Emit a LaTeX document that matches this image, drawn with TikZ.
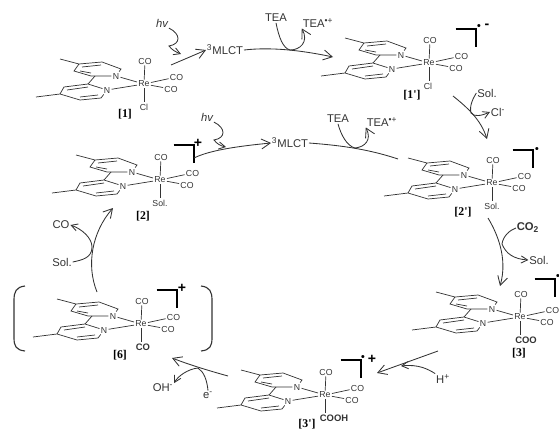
\documentclass[tikz,border=0pt]{standalone}
\usepackage{fontspec}
\setmainfont{Liberation Sans}
\newfontfamily\labelfont{Liberation Serif}
\usetikzlibrary{arrows.meta,calc}
\definecolor{inkgray}{HTML}{333333}
\newcommand{\plainatom}{\fontsize{6.2}{8}\selectfont}
\newcommand{\boldatom}{\bfseries\fontsize{6.7}{8}\selectfont}
\tikzset{
  rxnarr/.style   = {-{Straight Barb[length=2.2mm,width=2.5mm]},inkgray,line width=0.6pt},
  smallarr/.style = {-{Straight Barb[length=1.6mm,width=1.8mm]},inkgray,line width=0.6pt},
  rxnline/.style  = {inkgray,line width=0.6pt},
  bond/.style     = {inkgray,line width=0.5pt},
  corner/.style   = {black,line width=1.1pt},
  roundbr/.style  = {inkgray,line width=0.8pt},
  atom/.style     = {inner sep=0.8pt,font=\plainatom,text=inkgray},
  reagent/.style  = {inner sep=0.5pt,font=\fontsize{8}{10}\selectfont,text=inkgray},
  cmpd/.style     = {inner sep=0pt,font=\labelfont\bfseries\fontsize{8.4}{10}\selectfont},
  charge/.style   = {inner sep=0pt,font=\bfseries\fontsize{10}{10}\selectfont},
  radical/.style  = {inner sep=0pt,font=\bfseries\fontsize{7.5}{10}\selectfont}
}
% the Re complex, #1 name, #2 Re position, #3 axial ligand, #4 its x offset, #5 font
\newcommand{\complex}[5]{%
  \begin{scope}[shift={(#2)}]
    \node[atom] (#1Re) at (0,0) {Re};
    \node[atom] (#1Na) at (-28,-8) {N};
    \node[atom] (#1Nb) at (-37,6) {N};
    \node[atom] (#1COa) at (1,-23) {CO};
    \node[atom] (#1COb) at (32.5,-7) {CO};
    \node[atom] (#1COc) at (27,5) {CO};
    \node[atom,font=#5] (#1ax) at (#4,23) {#3};
    \draw[bond] (#1Re) -- (#1Na);
    \draw[bond] (#1Re) -- (#1Nb);
    \draw[bond] (#1Re) -- (#1COa);
    \draw[bond] (#1Re) -- (#1COb);
    \draw[bond] (#1Re) -- (#1COc);
    \draw[bond] (#1Re) -- (#1ax.north -| #1Re);
    % upper ring
    \draw[bond] (-84,-25) -- (-65,-20) -- (-42,-22) -- (-23,-15) -- (#1Na) -- (-53,-8) -- (-70,-13) -- (-65,-20);
    \draw[bond] (-62,-17) -- (-43,-19);
    \draw[bond] (-64,-13) -- (-53,-11);
    \draw[bond] (-49,-8) -- (-56,0);
    % lower ring
    \draw[bond] (-108,13) -- (-84,10) -- (-80,3) -- (-56,0) -- (#1Nb) -- (-43,14) -- (-64,16) -- (-84,10);
    \draw[bond] (-77,6) -- (-56,3);
    \draw[bond] (-64,13) -- (-46,11);
  \end{scope}
}
% corner bracket of a complex
\newcommand{\cornermark}[1]{%
  \draw[corner] ($(#1)+(-20.5,0)$) -- (#1) -- ($(#1)+(0,18)$);
}
\begin{document}
\begin{tikzpicture}[x=0.025cm,y=-0.025cm]
  \useasboundingbox (0,0) rectangle (559,429);
  \complex{one}{144,84}{Cl}{0}{\plainatom}
  \complex{onep}{429,63}{Cl}{-1}{\plainatom}
  \complex{two}{160,180}{Sol.}{0}{\plainatom}
  \complex{twop}{492,183}{Sol.}{0}{\plainatom}
  \complex{three}{520,317}{COO}{6}{\boldatom}
  \complex{threep}{325,395}{COOH}{9}{\boldatom}
  \complex{six}{141,324}{CO}{2}{\boldatom}
  \node[cmpd] (lbla) at (125,114) {[1]};
  \node[cmpd] (lblb) at (412,95) {[1']};
  \node[cmpd] (lblc) at (143,216) {[2]};
  \node[cmpd] (lbld) at (463,212) {[2']};
  \node[cmpd] (lble) at (519,353) {[3]};
  \node[cmpd] (lblf) at (307,424) {[3']};
  \node[cmpd] (lblg) at (120,355) {[6]};
  % corner brackets and charges
  \cornermark{476,29}
  \cornermark{194,145}
  \cornermark{533,150}
  \cornermark{555,279}
  \cornermark{361,360}
  \cornermark{177,290}
  \node[radical] (chga) at (479,27) {•};
  \node[charge] (chgb) at (487,26) {-};
  \node[charge] (chgc) at (198,143) {+};
  \node[radical] (chgd) at (537,150) {•};
  \node[radical] (chge) at (558,277) {•};
  \node[radical] (chgf) at (363,358) {•};
  \node[charge] (chgg) at (372,359) {+};
  \node[charge] (chgh) at (182,288) {+};
  % big brackets round [6]
  \draw[roundbr] (25,286) .. controls (16,287) and (14,292) .. (14,300) -- (14,338) .. controls (14,346) and (16,350) .. (25,351);
  \draw[roundbr] (201,286) .. controls (210,287) and (212,292) .. (212,300) -- (212,338) .. controls (212,346) and (210,350) .. (201,351);
  % top row
  \node[reagent,font=\itshape\fontsize{8}{10}\selectfont] (hva) at (162,23) {hv};
  \node[reagent] (mlcta) at (225,50) {\textsuperscript{3}MLCT};
  \node[reagent] (teaa) at (276,18) {TEA};
  \node[reagent] (teaplusa) at (318,23) {TEA\textsuperscript{•+}};
  \coordinate (hvaend) at (181,54);
  \coordinate (mlctafrom) at (171,65);
  \coordinate (teaajoin) at (290,50);
  \coordinate (onepin) at (333,57);
  \draw[smallarr] (hva.south east) .. controls (181,34) and (181,44) .. (169,46) .. controls (172,50) and (176,52) .. (hvaend);
  \draw[rxnarr] (mlctafrom) -- (mlcta.west);
  \draw[rxnarr] (mlcta.east) .. controls (270,47) and (300,50) .. (onepin);
  \draw[rxnarr] (teaa.south) .. controls (279,38) and (283,48) .. (teaajoin) .. controls (300,50) and (309,42) .. (teaplusa.south west);
  % second row
  \node[reagent,font=\itshape\fontsize{8}{10}\selectfont] (hvb) at (207,117) {hv};
  \node[reagent] (mlctb) at (290,143) {\textsuperscript{3}MLCT};
  \node[reagent] (teab) at (338,119) {TEA};
  \node[reagent] (teaplusb) at (382,122) {TEA\textsuperscript{•+}};
  \coordinate (hvbend) at (226,147);
  \coordinate (twoout) at (194,158);
  \coordinate (teabjoin) at (355,148);
  \coordinate (twopin) at (398,159);
  \draw[smallarr] (hvb.south east) .. controls (226,128) and (226,138) .. (214,140) .. controls (217,144) and (221,146) .. (hvbend);
  \draw[rxnarr] (twoout) .. controls (210,150) and (240,146) .. (mlctb.west);
  \draw[rxnline] (mlctb.east) .. controls (335,145) and (365,148) .. (twopin);
  \draw[rxnarr] (teab.south) .. controls (341,135) and (347,146) .. (teabjoin) .. controls (365,147) and (372,140) .. (teaplusb.south west);
  % 1' to 2'
  \node[reagent] (sola) at (487,93) {Sol.};
  \node[reagent] (cl) at (498,112) {Cl\textsuperscript{-}};
  \coordinate (oneout) at (453,96);
  \coordinate (twoptop) at (487,139);
  \coordinate (solajoin) at (471,113);
  \draw[rxnarr] (oneout) .. controls (468,108) and (481,120) .. (twoptop);
  \draw[smallarr] (sola.west) .. controls (474,97) and (469,105) .. (solajoin) .. controls (474,117) and (481,116) .. (cl.west);
  % 2' to 3
  \node[reagent,font=\bfseries\fontsize{8}{10}\selectfont] (cotwo) at (528,228) {CO\textsubscript{2}};
  \node[reagent] (solb) at (539,260) {Sol.};
  \coordinate (twoout2) at (488,218);
  \coordinate (threein) at (500,286);
  \coordinate (cotwojoin) at (502,244);
  \draw[rxnarr] (twoout2) .. controls (497,233) and (508,258) .. (threein);
  \draw[smallarr] (cotwo.west) .. controls (510,230) and (503,236) .. (cotwojoin) .. controls (506,254) and (514,259) .. (solb.west);
  % 3 to 3'
  \node[reagent] (hplus) at (443,379) {H\textsuperscript{+}};
  \coordinate (threeout) at (438,351);
  \coordinate (threepin) at (377,373);
  \coordinate (hjoin) at (401,366);
  \draw[rxnarr] (threeout) -- (threepin);
  \draw[smallarr] (hplus.north west) .. controls (428,369) and (418,364) .. (hjoin);
  % 3' to 6
  \node[reagent] (elec) at (208,395) {e\textsuperscript{-}};
  \node[reagent] (oh) at (163,388) {OH\textsuperscript{-}};
  \coordinate (threepout) at (228,376);
  \coordinate (sixin) at (172,358);
  \coordinate (ejoin) at (198,368);
  \draw[rxnarr] (threepout) .. controls (210,371) and (190,365) .. (sixin);
  \draw[smallarr] (elec.north) .. controls (207,380) and (204,372) .. (ejoin) .. controls (188,369) and (178,376) .. (oh.north east);
  % 6 to 2
  \node[reagent] (coout) at (61,225) {CO};
  \node[reagent] (solc) at (62,262) {Sol.};
  \coordinate (sixout) at (97,292);
  \coordinate (twoin) at (113,208);
  \coordinate (soljoin) at (92,247);
  \draw[rxnarr] (sixout) .. controls (86,265) and (92,232) .. (twoin);
  \draw[smallarr] (solc.east) .. controls (82,260) and (92,258) .. (soljoin) .. controls (92,238) and (82,229) .. (coout.east);
\end{tikzpicture}
\end{document}
